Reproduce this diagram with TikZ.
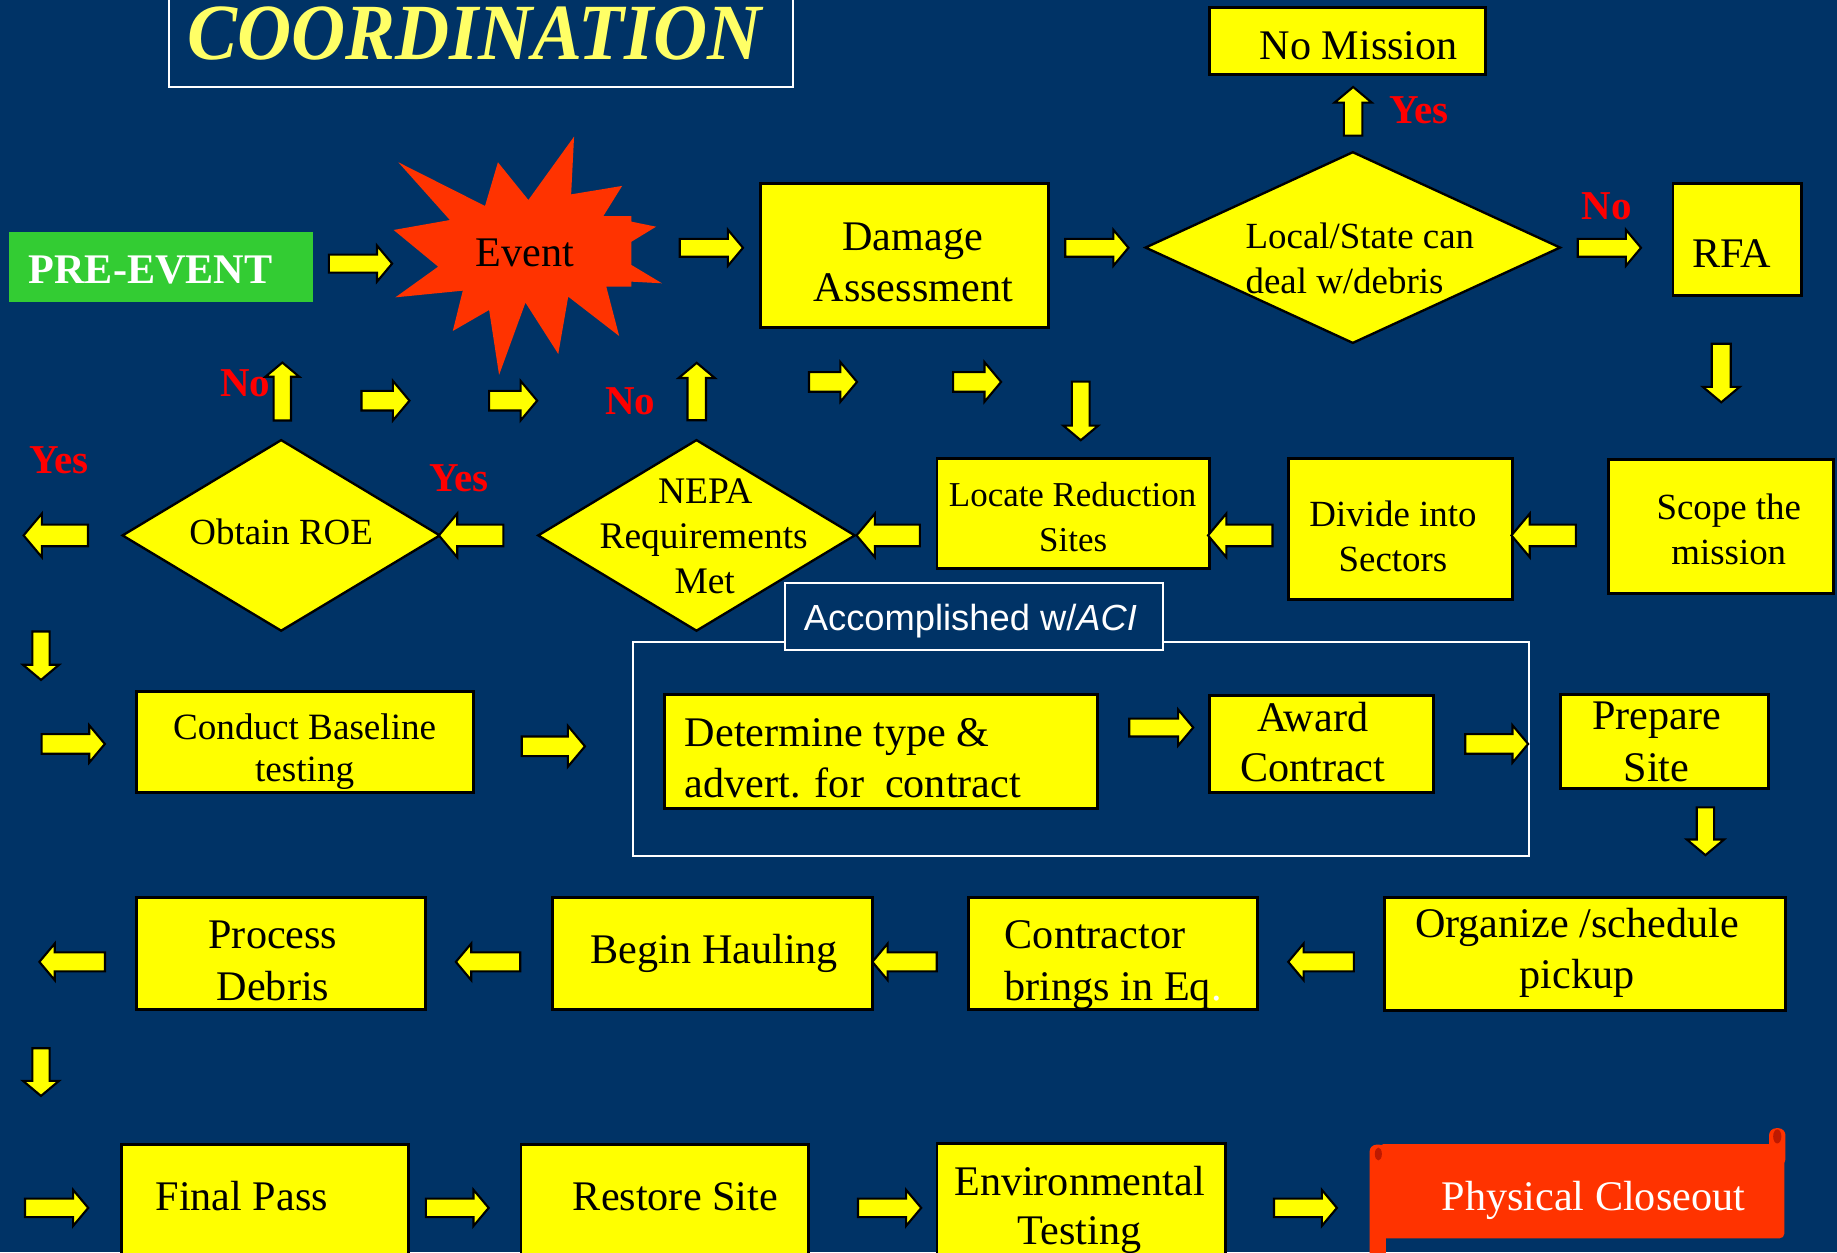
\documentclass[tikz,border=0pt]{standalone}
\usepackage{fontspec}
\setmainfont{Liberation Serif}
\newfontfamily\acifont{Liberation Sans}
\usetikzlibrary{shapes.geometric,shapes.arrows}
\definecolor{bg}{RGB}{0,51,102}
\definecolor{yel}{RGB}{255,255,0}
\definecolor{titley}{RGB}{255,255,102}
\definecolor{evred}{RGB}{255,51,0}
\definecolor{grn}{RGB}{51,204,51}
\definecolor{curl}{RGB}{190,25,0}
\tikzset{
  ybox/.style={draw=black, line width=2.5pt, fill=yel, inner sep=0pt},
  greenbox/.style={fill=grn, inner sep=0pt},
  wbox/.style={draw=white, line width=1.8pt, inner sep=0pt},
  wlabel/.style={draw=white, line width=1.8pt, fill=bg, inner sep=0pt},
  ydia/.style={diamond, draw=black, line width=2pt, fill=yel, inner sep=0pt},
  txt/.style={text=black, inner sep=0pt, anchor=base, font=\fontsize{36}{43}\selectfont},
  stxt/.style={text=black, inner sep=0pt, anchor=base, font=\fontsize{31.5}{38}\selectfont},
  ans/.style={text=red, inner sep=0pt, anchor=base, font=\bfseries\fontsize{35}{40}\selectfont},
  arr/.style={single arrow, draw=black, line width=1.8pt, fill=yel, inner xsep=0pt,
    single arrow tip angle=100, single arrow head indent=0pt}
}
% box from corner coordinates
\newcommand\bx[6][ybox]{\node[#1, minimum width={#5-#3}, minimum height={#6-#4}] (#2) at ({(#3+#5)/2},{(#4+#6)/2}) {};}
% block arrow: name, x, y, rotation, length, head width, head extend
\newcommand\arw[7]{\node[arr, rotate=#4, xshift=-3pt, minimum height=#5pt, inner ysep={(#6-2*#7)/2}, single arrow head extend=#7pt] (#1) at (#2,#3) {};}
\begin{document}
\begin{tikzpicture}[x=1pt,y=-1pt]
\useasboundingbox (0,0) rectangle (1568,1069);
\clip (0,0) rectangle (1568,1069);
\fill[bg] (0,0) rectangle (1568,1069);

% title
\bx[wbox]{titlebox}{144}{-10}{677}{74.5}
\node[inner sep=0pt, anchor=base, text=titley, font=\bfseries\itshape\fontsize{68}{72}\selectfont] (title) at (405,51) {\scalebox{0.94}[1]{COORDINATION}};

% row 1
\bx[greenbox]{pre}{8}{198}{267}{258}
\node[inner sep=0pt, anchor=base, text=white, font=\bfseries\fontsize{36}{43}\selectfont] (pretext) at (128.5,242) {PRE-EVENT};
\fill[evred] (490,116.6) -- (487.5,165.9) -- (531,158.7) -- (515,184.4) -- (539,184.4) -- (539,189.2)
  -- (560,193.5) -- (539,206.3) -- (539,226.2) -- (565,241.8) -- (539,240.4) -- (539,244.7)
  -- (517.5,244.7) -- (528.5,286.8) -- (485,253.2) -- (476.5,302.1) -- (448.5,258.3) -- (426,320)
  -- (417.5,264.6) -- (386.5,282.5) -- (395,248.1) -- (337.5,253.8) -- (374,227.6) -- (336,196.3)
  -- (384,187.8) -- (340,138.5) -- (414,175.8) -- (425,138.5) -- (451,170.7) -- cycle;
\node[txt] (event) at (448,227.6) {Event};
\bx{damage}{649.5}{156.5}{894.7}{279.7}
\node[txt] (damage1) at (779,213.4) {Damage};
\node[txt] (damage2) at (779.5,257.5) {Assessment};
\node[ydia, minimum width=354.6pt, minimum height=163.6pt] (local) at (1154.7,211.3) {};
\node[stxt, anchor=base west] (local1) at (1063,212) {Local/State can};
\node[stxt, anchor=base west] (local2) at (1063,250.4) {deal w/debris};
\bx{nomission}{1032}{6.3}{1268}{63.2}
\node[txt] (nomissiont) at (1159.8,51.2) {No Mission};
\node[ans] (yes1) at (1211,105.3) {Yes};
\node[ans] (no1) at (1371.5,187) {No};
\bx{rfa}{1428}{156.5}{1537.6}{252.6}
\node[txt] (rfat) at (1478,228) {RFA};

\arw{a1}{307.5}{225}{0}{54}{29}{7.75}
\arw{a2}{607}{211.5}{0}{54}{29}{7.75}
\arw{a3}{936}{211.5}{0}{54}{29}{7.75}
\arw{a4}{1373.5}{211.5}{0}{54}{29}{7.75}
\arw{a5}{1155}{95.3}{90}{41.5}{30}{8}

% row 2 small arrows
\node[ans] (no2) at (209.5,338.6) {No};
\arw{a6}{241}{334.3}{90}{49.5}{27}{7}
\arw{a7}{328.5}{342}{0}{41}{32}{8.5}
\arw{a8}{437.5}{342}{0}{41}{32}{8.5}
\node[ans] (no3) at (538,354) {No};
\arw{a9}{594.7}{334.5}{90}{49}{29}{7.5}
\arw{a10}{710.5}{326}{0}{41}{32}{8.5}
\arw{a11}{833.5}{326}{0}{41}{32}{8.5}
\arw{a12}{922.5}{350.6}{-90}{50}{28}{7.3}
\arw{a13}{1469.2}{318}{-90}{50}{29.6}{7.6}

% row 3
\node[ans] (yes2) at (50.5,404) {Yes};
\arw{a14}{48.5}{457}{180}{55}{35.5}{9.4}
\node[ydia, minimum width=271.6pt, minimum height=163.5pt] (roe) at (240,457) {};
\node[stxt] (roet) at (240,465) {Obtain ROE};
\node[ans] (yes3) at (392,419.6) {Yes};
\arw{a15}{403}{457}{180}{55}{35.5}{9.4}
\node[ydia, minimum width=271pt, minimum height=163.5pt] (nepa) at (594.5,457) {};
\node[stxt, font=\fontsize{32}{38}\selectfont] (nepa1) at (602,429.6) {NEPA};
\node[stxt, font=\fontsize{32}{38}\selectfont] (nepa2) at (600.6,468.2) {Requirements};
\node[stxt, font=\fontsize{32}{38}\selectfont] (nepa3) at (601.5,506.4) {Met};
\arw{a16}{759}{457}{180}{54}{35.5}{9.4}
\bx{locate}{799.8}{391.7}{1032}{485}
\node[stxt, font=\fontsize{29.8}{38}\selectfont] (locate1) at (915.5,432.4) {Locate Reduction};
\node[stxt, font=\fontsize{29.8}{38}\selectfont] (locate2) at (916,470.8) {Sites};
\arw{a17}{1059.5}{457}{180}{55}{35.5}{9.4}
\bx{divide}{1099.8}{391.7}{1291}{512}
\node[stxt] (divide1) at (1189,449.5) {Divide into};
\node[stxt] (divide2) at (1189,488) {Sectors};
\arw{a18}{1318.5}{457}{180}{55}{35.5}{9.4}
\bx{scope}{1373.3}{392}{1565}{506.4}
\node[stxt] (scope1) at (1475.6,443.2) {Scope the};
\node[stxt] (scope2) at (1475.6,482) {mission};

% ACI frame
\bx[wbox]{aciframe}{540}{548}{1305}{730.5}
\bx[wlabel]{acilabel}{670}{497.8}{992.7}{554.7}
\node[inner sep=0pt, anchor=base west, text=white, font=\acifont\fontsize{31}{36}\selectfont] (acitext) at (686,538) {Accomplished w/\textit{ACI}};

% row 4
\arw{a19}{35}{559.6}{-90}{41.3}{29}{8}
\arw{a20}{62}{635}{0}{54}{30}{7.5}
\bx{conduct}{116.7}{590.3}{404}{676.2}
\node[stxt, font=\fontsize{31.7}{39}\selectfont] (conduct1) at (260,631.5) {Conduct Baseline};
\node[stxt, font=\fontsize{31.7}{39}\selectfont] (conduct2) at (260,667) {testing};
\arw{a21}{471.8}{637}{0}{54}{33}{9}
\bx{determine}{567.4}{593}{936.6}{690}
\node[txt, anchor=base west] (det1) at (584.4,637) {Determine type \&};
\node[txt, anchor=base west] (det2) at (584.4,680.3) {advert. for\ \ contract};
\arw{a22}{991}{621}{0}{54.6}{29}{7.75}
\bx{award}{1032}{594}{1223.3}{676.2}
\node[txt] (award1) at (1120.5,624.5) {Award};
\node[txt] (award2) at (1120.5,667) {Contract};
\arw{a23}{1277}{635}{0}{53.7}{30}{7.5}
\bx{prepare}{1332}{593}{1509.5}{672.8}
\node[txt] (prep1) at (1414,622.6) {Prepare};
\node[txt] (prep2) at (1414,667) {Site};
\arw{a24}{1455.7}{709.4}{-90}{40.8}{30}{8.5}

% row 5
\arw{a25}{62}{821}{180}{56}{29.4}{7.5}
\bx{process}{116.7}{766.2}{363}{862}
\node[txt] (proc1) at (233,810) {Process};
\node[txt] (proc2) at (233,853.6) {Debris};
\arw{a26}{417}{821}{180}{55}{29.4}{7.5}
\bx{begin}{471.7}{766}{745}{862}
\node[txt] (begint) at (609.7,822) {Begin Hauling};
\arw{a27}{772.5}{821}{180}{55}{29.4}{7.5}
\bx{contractor}{826.9}{766}{1073.3}{862}
\node[txt, anchor=base west] (cont1) at (857.5,810) {Contractor};
\node[txt, anchor=base west] (cont2) at (857.5,853.6) {brings in Eq\textcolor{white}{.}};
\arw{a28}{1128}{821}{180}{56}{29.4}{7.5}
\bx{organize}{1181.5}{766}{1524.3}{862.6}
\node[txt] (org1) at (1346,800.5) {Organize /schedule};
\node[txt] (org2) at (1346,844) {pickup};
\arw{a29}{35}{915}{-90}{40.7}{29}{8}

% row 6
\arw{a30}{48}{1031}{0}{54}{29}{7.5}
\bx{final}{103.7}{976.5}{349}{1085}
\node[txt, anchor=base west] (finalt) at (132.7,1033) {Final Pass};
\arw{a31}{390}{1031}{0}{53.6}{29}{7.5}
\bx{restore}{444.7}{976.5}{690}{1085}
\node[txt] (restoret) at (576.5,1033) {Restore Site};
\arw{a32}{759}{1031}{0}{54}{29}{7.5}
\bx{envtest}{799.8}{976}{1046.3}{1085}
\node[txt] (env1) at (921.5,1020) {Environmental};
\node[txt] (env2) at (921.5,1062.3) {Testing};
\arw{a33}{1114}{1031}{0}{53.7}{29}{7.5}

% Physical closeout scroll
\fill[evred, rounded corners=6pt] (1510,963) rectangle (1524,995);
\fill[evred, rounded corners=6pt] (1169,977) rectangle (1183,1090);
\node[fill=evred, rounded corners=4pt, inner sep=0pt, minimum width=346pt, minimum height=80.5pt] (closeout) at (1350,1016.75) {};
\fill[curl] (1517,970) ellipse (3.5 and 6);
\fill[curl] (1176.5,985) ellipse (3 and 5.5);
\node[inner sep=0pt, anchor=base, text=white, font=\fontsize{36}{43}\selectfont] (closeoutt) at (1360,1033) {Physical Closeout};
\end{tikzpicture}
\end{document}
